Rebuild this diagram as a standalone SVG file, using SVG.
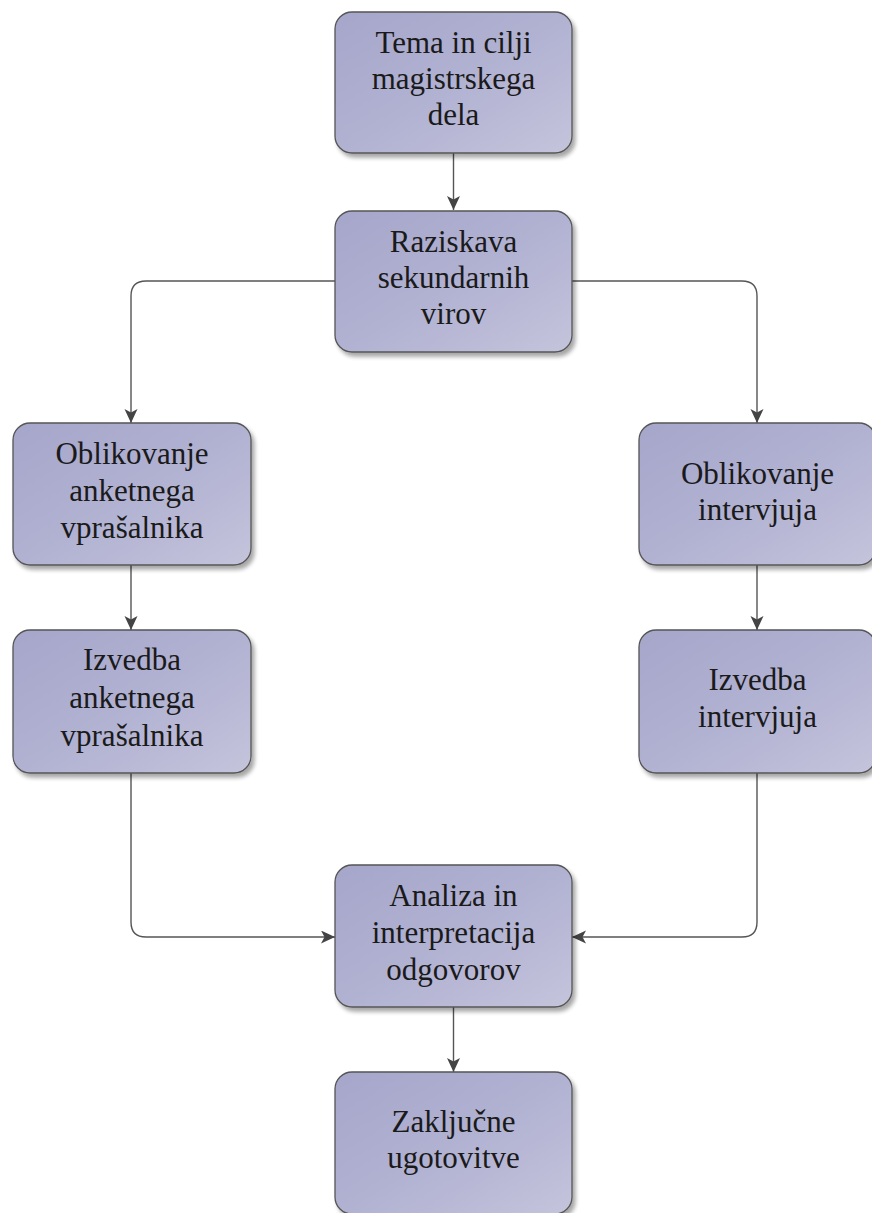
<svg xmlns="http://www.w3.org/2000/svg" width="872" height="1213" viewBox="0 0 872 1213">
<defs>
<linearGradient id="g" x1="0" y1="0" x2="1" y2="1">
<stop offset="0" stop-color="#a6a6cb"/>
<stop offset="0.5" stop-color="#b1b1d2"/>
<stop offset="1" stop-color="#c4c4dc"/>
</linearGradient>
<filter id="sh" x="-10%" y="-10%" width="130%" height="130%">
<feGaussianBlur in="SourceAlpha" stdDeviation="2"/>
<feOffset dx="3" dy="4" result="b"/>
<feComponentTransfer><feFuncA type="linear" slope="0.35"/></feComponentTransfer>
<feMerge><feMergeNode/><feMergeNode in="SourceGraphic"/></feMerge>
</filter>
<marker id="ah" markerUnits="userSpaceOnUse" markerWidth="16" markerHeight="14" refX="14" refY="6.5" orient="auto">
<path d="M0,0 L14,6.5 L0,13 L3.5,6.5 z" fill="#444"/>
</marker>
</defs>
<style>
.box{fill:url(#g);stroke:#555;stroke-width:1.3;filter:url(#sh)}
.t{font-family:"Liberation Serif","Times New Roman",serif;font-size:31px;fill:#1a1a1a;text-anchor:middle}
.c{fill:none;stroke:#555;stroke-width:1.4;marker-end:url(#ah)}
</style>
<g id="connectors">
<path class="c" d="M453.5,153 V210"/>
<path class="c" d="M335,281 H146 Q131,281 131,296 V423"/>
<path class="c" d="M572,281 H742 Q757,281 757,296 V423"/>
<path class="c" d="M131,565 V630"/>
<path class="c" d="M757,565 V630"/>
<path class="c" d="M131,773 V922 Q131,937 146,937 H335"/>
<path class="c" d="M757,773 V922 Q757,937 742,937 H572"/>
<path class="c" d="M453.5,1007 V1072"/>
</g>
<g id="n1">
<rect class="box" x="335" y="12" width="237" height="141" rx="17"/>
<text class="t" x="453.5" y="53">Tema in cilji</text>
<text class="t" x="453.5" y="89">magistrskega</text>
<text class="t" x="453.5" y="125">dela</text>
</g>
<g id="n2">
<rect class="box" x="335" y="211" width="237" height="141" rx="17"/>
<text class="t" x="453.5" y="252">Raziskava</text>
<text class="t" x="453.5" y="288">sekundarnih</text>
<text class="t" x="453.5" y="324">virov</text>
</g>
<g id="n3">
<rect class="box" x="13" y="423" width="238" height="142" rx="17"/>
<text class="t" x="132" y="464">Oblikovanje</text>
<text class="t" x="132" y="501">anketnega</text>
<text class="t" x="132" y="538">vprašalnika</text>
</g>
<g id="n4">
<rect class="box" x="639" y="423" width="237" height="142" rx="17"/>
<text class="t" x="757.5" y="484">Oblikovanje</text>
<text class="t" x="757.5" y="520">intervjuja</text>
</g>
<g id="n5">
<rect class="box" x="13" y="630" width="238" height="143" rx="17"/>
<text class="t" x="132" y="670">Izvedba</text>
<text class="t" x="132" y="708">anketnega</text>
<text class="t" x="132" y="746">vprašalnika</text>
</g>
<g id="n6">
<rect class="box" x="639" y="630" width="237" height="143" rx="17"/>
<text class="t" x="757.5" y="690">Izvedba</text>
<text class="t" x="757.5" y="727">intervjuja</text>
</g>
<g id="n7">
<rect class="box" x="335" y="865" width="237" height="142" rx="17"/>
<text class="t" x="453.5" y="906">Analiza in</text>
<text class="t" x="453.5" y="943">interpretacija</text>
<text class="t" x="453.5" y="980">odgovorov</text>
</g>
<g id="n8">
<rect class="box" x="335" y="1072" width="237" height="142" rx="17"/>
<text class="t" x="453.5" y="1132">Zaključne</text>
<text class="t" x="453.5" y="1168">ugotovitve</text>
</g>
</svg>
